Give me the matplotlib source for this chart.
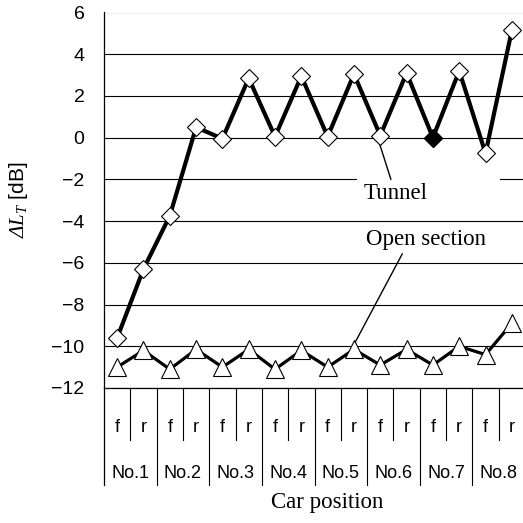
import numpy as np
import matplotlib.pyplot as plt
from matplotlib.patches import Rectangle

plt.rcParams['font.family'] = 'Liberation Sans'
plt.rcParams['axes.unicode_minus'] = True
plt.rcParams['mathtext.fontset'] = 'custom'
plt.rcParams['mathtext.rm'] = 'Liberation Serif:italic'
plt.rcParams['mathtext.it'] = 'Liberation Serif:italic'

# car positions: front / rear of cars No.1 .. No.8
cars = ['No.1', 'No.2', 'No.3', 'No.4', 'No.5', 'No.6', 'No.7', 'No.8']
ends = ['f', 'r'] * 8

tunnel = [-9.6, -6.3, -3.75, 0.5, -0.05, 2.85, 0.05, 2.95,
          0.05, 3.05, 0.1, 3.1, 0.0, 3.2, -0.75, 5.15]
open_sec = [-11.0, -10.2, -11.1, -10.15, -11.0, -10.15, -11.1, -10.2,
            -11.0, -10.15, -10.9, -10.15, -10.9, -10.0, -10.4, -8.9]
filled = 12  # index of the filled diamond (No.7 f)

yticks = [6, 4, 2, 0, -2, -4, -6, -8, -10, -12]

x = np.arange(len(tunnel))

fig = plt.figure(figsize=(5.23, 5.23), dpi=100)
ax = fig.add_axes([104/523, 1 - 388/523, 421/523, 375.5/523])

# grid
ax.set_axisbelow(True)
ax.yaxis.grid(True, color='black', lw=0.8)
for s in ['top', 'right']:
    ax.spines[s].set_visible(False)
ax.spines['left'].set_linewidth(0.9)
ax.spines['bottom'].set_linewidth(0.9)

# gap in the -2 gridline behind the "Tunnel" label
ax.add_patch(Rectangle((9.12, -2.2), 5.44, 0.4, facecolor='white',
                       edgecolor='none', zorder=1))

ax.plot(x, open_sec, color='black', lw=2.3, marker='^', ms=13.5,
        mfc='white', mec='black', mew=0.8, zorder=3)
ax.plot(x, tunnel, color='black', lw=3.0, marker='D', ms=9.2,
        mfc='white', mec='black', mew=0.8, zorder=4)
ax.plot(x[filled], tunnel[filled], linestyle='none', marker='D', ms=9.2,
        mfc='black', mec='black', mew=0.8, zorder=5)

ax.set_xlim(-0.5, 15.5)
ax.set_ylim(-12, 6)
ax.set_yticks(yticks)
ax.set_xticks([])
ax.tick_params(axis='y', length=0, pad=14, labelsize=14)

fig.text(19/523, 1 - 200/523, r'$\Delta L_T$ [dB]', rotation=90,
         ha='center', va='center', fontsize=15)

# category boxes under the axis
trans = ax.get_xaxis_transform()
for i in range(8):
    ax.plot([2*i + 0.5]*2, [0, -0.1385], transform=trans, color='black',
            lw=0.8, clip_on=False)
for i in range(7):
    ax.plot([2*i + 1.5]*2, [0, -0.258], transform=trans, color='black',
            lw=0.8, clip_on=False)
ax.plot([-0.5, -0.5], [0, -0.258], transform=trans, color='black',
        lw=0.9, clip_on=False)

for xi, e in zip(x, ends):
    ax.text(xi, -0.105, e, transform=trans, ha='center', va='center',
            fontsize=13)
for i, c in enumerate(cars):
    ax.text(2*i + 0.5, -0.229, c, transform=trans, ha='center',
            va='center', fontsize=13)

ax.text(8.0, -0.306, 'Car position', transform=trans, ha='center',
        va='center', fontsize=16.5, family='Liberation Serif')

# series labels
ax.annotate('Tunnel', xy=(9.95, -0.2), xytext=(10.58, -2.7),
            ha='center', va='center', fontsize=16.5,
            family='Liberation Serif',
            arrowprops=dict(arrowstyle='-', lw=1.0, color='black',
                            shrinkA=1, shrinkB=0))
ax.annotate('Open section', xy=(9.05, -9.8), xytext=(11.74, -4.87),
            ha='center', va='center', fontsize=16.5,
            family='Liberation Serif',
            arrowprops=dict(arrowstyle='-', lw=1.0, color='black',
                            relpos=(0.32, 0), shrinkA=1, shrinkB=0))

fig.savefig('out.png', dpi=100)
